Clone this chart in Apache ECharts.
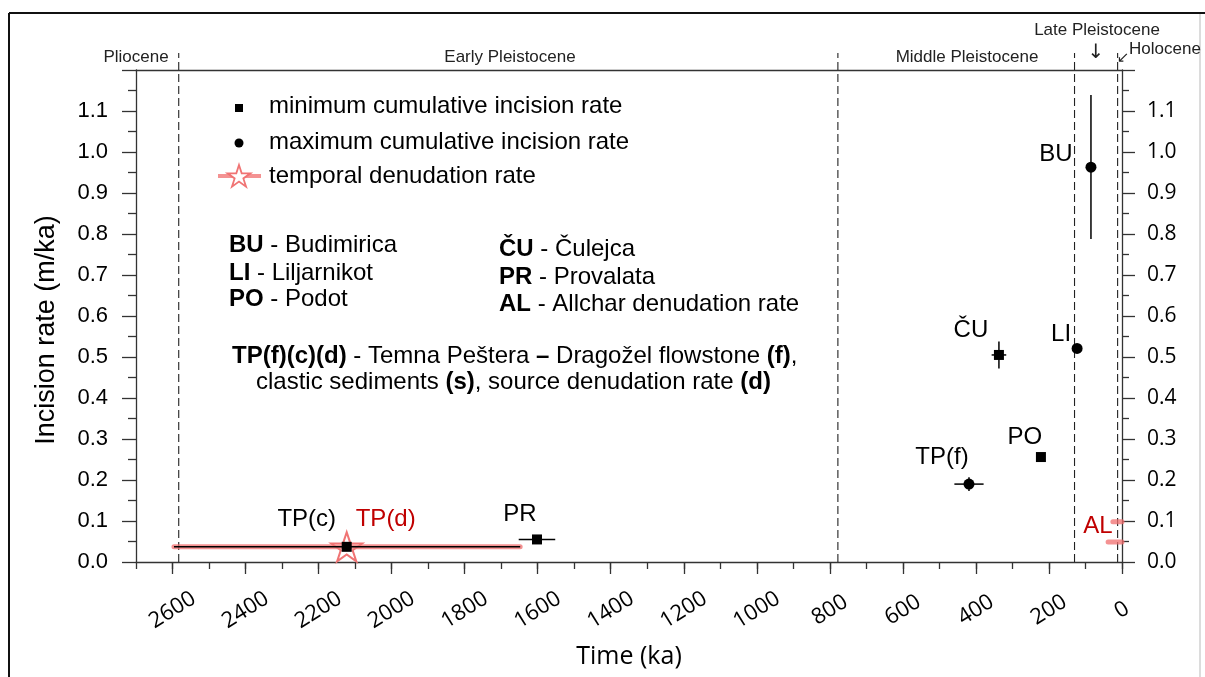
<!DOCTYPE html>
<html><head><meta charset="utf-8">
<script src="https://cdn.jsdelivr.net/npm/echarts@6/dist/echarts.min.js"></script>
<style>html,body{margin:0;padding:0;background:#fff}#c{width:1205px;height:677px}</style>
</head><body><div id="c"></div>
<script>
// ---------- DATA ----------
// minimum cumulative incision rate (squares)
const minSites   = ['TP(c)', 'PR', 'ČU', 'PO'];
const minAge     = [2123, 1602, 337, 222];
const minAgeOld  = [2596, 1652, 357, 222];
const minAgeYoung= [1648, 1552, 317, 222];
const minRate    = [0.037, 0.055, 0.505, 0.256];
const minRateLo  = [0.037, 0.055, 0.472, 0.256];
const minRateHi  = [0.037, 0.055, 0.538, 0.256];

// maximum cumulative incision rate (circles)
const maxSites   = ['TP(f)', 'LI', 'BU'];
const maxAge     = [419, 123, 85];
const maxAgeOld  = [459, 123, 85];
const maxAgeYoung= [379, 123, 85];
const maxRate    = [0.190, 0.521, 0.963];
const maxRateLo  = [0.173, 0.521, 0.788];
const maxRateHi  = [0.207, 0.521, 1.139];

// temporal denudation rate (pink ranges)
const denSites   = ['TP(d)', 'AL', 'AL'];
const denAgeFrom = [2596, 25, 38];
const denAgeTo   = [1648, 0, 0];
const denRate    = [0.037, 0.098, 0.049];
const starSite   = ['TP(d)'];
const starAge    = [2123];
const starRate   = [0.037];

// epoch boundaries (ka)
const epochBounds = [2583, 778, 130, 12];

// ticks
const xMajorTicks = [0, 200, 400, 600, 800, 1000, 1200, 1400, 1600, 1800, 2000, 2200, 2400, 2600];
const xMin = 0, xMax = 2700;
const yMin = 0, yMax = 1.2;

// ---------- LAYOUT ----------
const labelOffsets = {'TP(c)':[-40,-27], 'TP(d)':[39,-27], 'PR':[-17,-25], 'ČU':[-28,-25],
  'LI':[-16,-14], 'BU':[-35,-13], 'TP(f)':[-27,-27], 'PO':[-16,-20], 'AL':[-24,5]};
const TXT = '#000';
const PINK = 'rgba(240,110,110,0.75)';
const STAR_PATH = 'path://M50 0 L61.23 34.55 L97.55 34.55 L68.17 55.9 L79.39 90.45 L50 69.1 L20.61 90.45 L31.83 55.9 L2.45 34.55 L38.77 34.55 Z';

function lbl(name, color) {
  return {show:true, position:'inside', offset:labelOffsets[name], formatter:name,
    color:color||TXT, opacity:1, fontFamily:'Liberation Sans', fontSize:24, textBorderWidth:0};
}
const minData = minSites.map((n,i)=>({name:n, value:[minAge[i], minRate[i]], label:lbl(n)}));
const maxData = maxSites.map((n,i)=>({name:n, value:[maxAge[i], maxRate[i]], label:lbl(n)}));
const starData = starSite.map((n,i)=>({name:n, value:[starAge[i], starRate[i]], label:lbl(n,'#c00000')}));
const alData = [{name:'AL', value:[denAgeTo[1], denRate[1]], label:lbl('AL','#c00000')}];
const errData = minSites.map((n,i)=>[minAge[i], minRate[i], minAgeOld[i], minAgeYoung[i], minRateLo[i], minRateHi[i]])
  .concat(maxSites.map((n,i)=>[maxAge[i], maxRate[i], maxAgeOld[i], maxAgeYoung[i], maxRateLo[i], maxRateHi[i]]));
const denData = denSites.map((n,i)=>[denAgeFrom[i], denRate[i], denAgeTo[i]]);
const epochData = epochBounds.map(v=>[v, yMin]);

function starPts(cx, cy, R) {
  const pts = [], r = R*0.382;
  for (let k=0;k<10;k++){
    const a = -Math.PI/2 + k*Math.PI/5, rr = k%2===0?R:r;
    pts.push([cx+rr*Math.cos(a), cy+rr*Math.sin(a)]);
  }
  return pts;
}
function txt(x, y, text, opt) {
  opt = opt||{};
  return {type:'text', x:x, y:y, rotation:opt.rotation||0, z:50,
    style:Object.assign({text:text, fill:opt.color||TXT, fontFamily:opt.family||'Liberation Sans',
      fontSize:opt.size||24, fontWeight:opt.weight||'normal',
      align:opt.align||'left', verticalAlign:'middle', textAlign:opt.align||'left', textVerticalAlign:'middle'},
      opt.rich?{rich:opt.rich}:{})};
}
const boldRich = {b:{fontWeight:'bold', fontFamily:'Liberation Sans', fontSize:24, fill:TXT, color:TXT}};

const axisLineStyle = {color:'#333', width:1.3};

const option = {
  animation:false,
  backgroundColor:'#fff',
  grid:{left:136, right:83, top:70, bottom:115, containLabel:false},
  xAxis:[
    {type:'value', inverse:true, min:xMin, max:xMax, interval:200, position:'bottom',
     axisLine:{show:true, onZero:false, lineStyle:axisLineStyle},
     axisTick:{show:true, length:12, customValues:xMajorTicks, lineStyle:axisLineStyle},
     axisLabel:{show:true, customValues:xMajorTicks, rotate:32, align:'center', verticalAlign:'middle', margin:48,
       fontFamily:'Open Sans', fontSize:22, color:TXT,
       formatter:function(v){return v>2600?'':String(v);}},
     splitLine:{show:false},
     name:'Time (ka)', nameLocation:'middle', nameGap:82,
     nameTextStyle:{fontFamily:'Open Sans', fontSize:25, color:TXT}},
    {type:'value', inverse:true, min:xMin, max:xMax, interval:100, position:'bottom',
     axisLine:{show:false, onZero:false}, axisTick:{show:true, length:7, lineStyle:axisLineStyle},
     axisLabel:{show:false}, splitLine:{show:false}},
    {type:'value', inverse:true, min:xMin, max:xMax, position:'top',
     axisLine:{show:true, onZero:false, lineStyle:axisLineStyle}, axisTick:{show:false},
     axisLabel:{show:false}, splitLine:{show:false}}
  ],
  yAxis:[
    {type:'value', min:yMin, max:yMax, interval:0.1, position:'left',
     axisLine:{show:true, onZero:false, lineStyle:axisLineStyle},
     axisTick:{show:true, length:14, lineStyle:axisLineStyle},
     minorTick:{show:true, splitNumber:2, length:8, lineStyle:axisLineStyle},
     axisLabel:{margin:28, fontFamily:'Liberation Sans', fontSize:22, color:TXT, showMaxLabel:false,
       formatter:function(v){return v.toFixed(1);}},
     splitLine:{show:false}, minorSplitLine:{show:false}},
    {type:'value', min:yMin, max:yMax, interval:0.1, position:'right',
     axisLine:{show:true, onZero:false, lineStyle:axisLineStyle},
     axisTick:{show:true, length:13, lineStyle:axisLineStyle},
     minorTick:{show:true, splitNumber:2, length:7, lineStyle:axisLineStyle},
     axisLabel:{margin:25, fontFamily:'Open Sans', fontSize:21, color:TXT, showMaxLabel:false,
       formatter:function(v){return v.toFixed(1);}},
     splitLine:{show:false}, minorSplitLine:{show:false}}
  ],
  series:[
    {type:'custom', name:'epochs', clip:false, silent:true, z:1, data:epochData,
     encode:{x:0, y:1},
     renderItem:function(params, api){
       const p0 = api.coord([api.value(0), yMin]);
       const p1 = api.coord([api.value(0), yMax]);
       return {type:'line', shape:{x1:p0[0], y1:p0[1], x2:p1[0], y2:p1[1]-17},
         style:{stroke:'#222', lineWidth:1.1, lineDash:[8,4]}};
     }},
    {type:'custom', name:'temporal denudation rate', silent:true, z:2, data:denData,
     encode:{x:[0,2], y:1},
     renderItem:function(params, api){
       const a = api.coord([api.value(0), api.value(1)]);
       const b = api.coord([api.value(2), api.value(1)]);
       return {type:'line', shape:{x1:a[0], y1:a[1], x2:b[0], y2:b[1]},
         style:{stroke:PINK, lineWidth:5, lineCap:'round'}};
     }},
    {type:'scatter', name:'TP(d) star', silent:true, z:3, symbol:STAR_PATH, symbolSize:[31,29],
     itemStyle:{color:'rgba(255,255,255,0)', borderColor:'#f07474', borderWidth:2, opacity:1},
     data:starData},
    {type:'custom', name:'error bars', silent:true, z:4, data:errData,
     encode:{x:[0,2,3], y:[1,4,5]},
     renderItem:function(params, api){
       const a = api.coord([api.value(2), api.value(1)]);
       const b = api.coord([api.value(3), api.value(1)]);
       const lo = api.coord([api.value(0), api.value(4)]);
       const hi = api.coord([api.value(0), api.value(5)]);
       const ch = [];
       if (Math.abs(a[0]-b[0])>0.5) ch.push({type:'line', shape:{x1:a[0],y1:a[1],x2:b[0],y2:b[1]}, style:{stroke:'#000', lineWidth:1.5}});
       if (Math.abs(lo[1]-hi[1])>0.5) ch.push({type:'line', shape:{x1:lo[0],y1:lo[1],x2:hi[0],y2:hi[1]}, style:{stroke:'#000', lineWidth:1.5}});
       return {type:'group', children:ch};
     }},
    {type:'scatter', name:'minimum cumulative incision rate', silent:true, z:5, symbol:'rect', symbolSize:10,
     itemStyle:{color:'#000', opacity:1}, data:minData},
    {type:'scatter', name:'maximum cumulative incision rate', silent:true, z:5, symbol:'circle', symbolSize:11,
     itemStyle:{color:'#000', opacity:1}, data:maxData},
    {type:'scatter', name:'AL label', silent:true, z:5, symbol:'circle', symbolSize:1,
     itemStyle:{color:'rgba(0,0,0,0)', opacity:1}, data:alData}
  ],
  graphic:[
    // frame
    {type:'line', shape:{x1:9, y1:13, x2:1205, y2:13}, style:{stroke:'#111', lineWidth:2}},
    {type:'line', shape:{x1:9, y1:13, x2:9, y2:677}, style:{stroke:'#111', lineWidth:2}},
    {type:'line', shape:{x1:1200, y1:14, x2:1200, y2:677}, style:{stroke:'#dcdcdc', lineWidth:2}},
    // y axis title
    txt(47, 330, 'Incision rate (m/ka)', {size:27, align:'center', rotation:Math.PI/2}),
    // epoch labels
    txt(136, 57, 'Pliocene', {size:17, align:'center', color:'#222'}),
    txt(510, 57, 'Early Pleistocene', {size:17, align:'center', color:'#222'}),
    txt(967, 57, 'Middle Pleistocene', {size:17, align:'center', color:'#222'}),
    txt(1097, 30, 'Late Pleistocene', {size:17, align:'center', color:'#222'}),
    txt(1165, 49, 'Holocene', {size:17, align:'center', color:'#222'}),
    txt(1096, 53, '↓', {size:20, align:'center', family:'DejaVu Sans', color:'#222'}),
    txt(1123, 58, '↙', {size:15, align:'center', family:'DejaVu Sans', color:'#222'}),
    // legend
    {type:'rect', shape:{x:235, y:104, width:8, height:8}, style:{fill:'#000'}},
    {type:'circle', shape:{cx:239, cy:143, r:4.5}, style:{fill:'#000'}},
    {type:'line', shape:{x1:218, y1:176, x2:261, y2:176}, style:{stroke:PINK, lineWidth:4}},
    {type:'polygon', shape:{points:starPts(239,177,12)}, style:{fill:'#fff', stroke:'#f07474', lineWidth:1.8}},
    txt(269, 106, 'minimum cumulative incision rate'),
    txt(269, 142, 'maximum cumulative incision rate'),
    txt(269, 176, 'temporal denudation rate'),
    txt(229, 245, '{b|BU} - Budimirica', {rich:boldRich}),
    txt(229, 273, '{b|LI} - Liljarnikot', {rich:boldRich}),
    txt(229, 299, '{b|PO} - Podot', {rich:boldRich}),
    txt(499, 249, '{b|ČU} - Čulejca', {rich:boldRich}),
    txt(499, 277, '{b|PR} - Provalata', {rich:boldRich}),
    txt(499, 304, '{b|AL} - Allchar denudation rate', {rich:boldRich}),
    txt(232, 356, '{b|TP(f)(c)(d)} - Temna Peštera {b|–} Dragožel flowstone {b|(f)},', {rich:boldRich}),
    txt(256, 382, 'clastic sediments {b|(s)}, source denudation rate {b|(d)}', {rich:boldRich})
  ]
};
const chart = echarts.init(document.getElementById('c'));
chart.setOption(option);
</script>
</body></html>
